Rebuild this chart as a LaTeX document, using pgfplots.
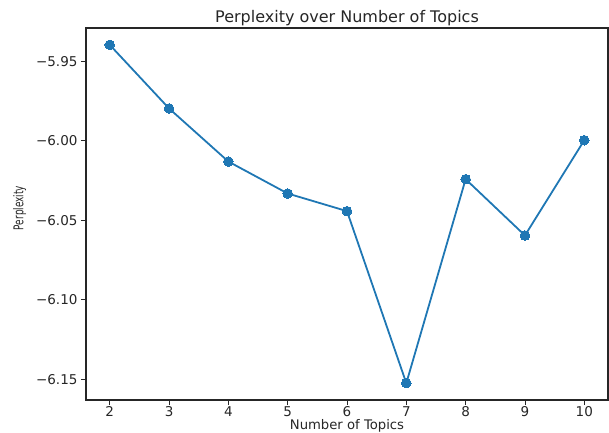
\documentclass[border=0pt]{standalone}
\usepackage{pgfplots}
\pgfplotsset{compat=1.18}
\usepackage{fontspec}
\setmainfont{DejaVu Sans}
\definecolor{mplblue}{HTML}{1F77B4}
\begin{document}
\begin{tikzpicture}[x=1pt,y=1pt]
\useasboundingbox (-86,-32) rectangle (523,400);
\begin{axis}[
  at={(0,0)}, anchor=south west,
  scale only axis,
  width=522pt, height=372pt,
  xmin=1.6, xmax=10.4,
  ymin=-6.1631, ymax=-5.9291,
  xtick={2,3,4,5,6,7,8,9,10},
  ytick={-6.15,-6.10,-6.05,-6.00,-5.95},
  yticklabels={−6.15,−6.10,−6.05,−6.00,−5.95},
  tick align=outside,
  xtick pos=bottom, ytick pos=left,
  major tick length=5pt,
  tick style={black!85, line width=0.9pt},
  axis line style={black!85, line width=1.1pt},
  ticklabel style={font=\fontsize{13.5}{16}\selectfont, text=black!85},
  x tick label style={yshift=1.8pt},
  /pgf/number format/assume math mode=true,
  xlabel={Number of Topics},
  ylabel={\scalebox{0.66}[1]{Perplexity}},
  xlabel style={font=\fontsize{13.2}{16}\selectfont, text=black!85, yshift=4.6pt},
  ylabel style={font=\fontsize{13.5}{16}\selectfont, text=black!85, yshift=3pt, xshift=6pt},
  title={Perplexity over Number of Topics},
  title style={font=\fontsize{16}{19}\selectfont, text=black!85, yshift=-7pt},
]
\addplot[color=mplblue, line width=1.8pt, mark=*, mark size=4.8pt, mark options={fill=mplblue, draw=mplblue, line width=0pt}] coordinates {
(2,-5.9397) (3,-5.9797) (4,-6.0131) (5,-6.0332) (6,-6.0443)
(7,-6.1525) (8,-6.0242) (9,-6.0596) (10,-5.9997)
};
\end{axis}
\end{tikzpicture}
\end{document}
